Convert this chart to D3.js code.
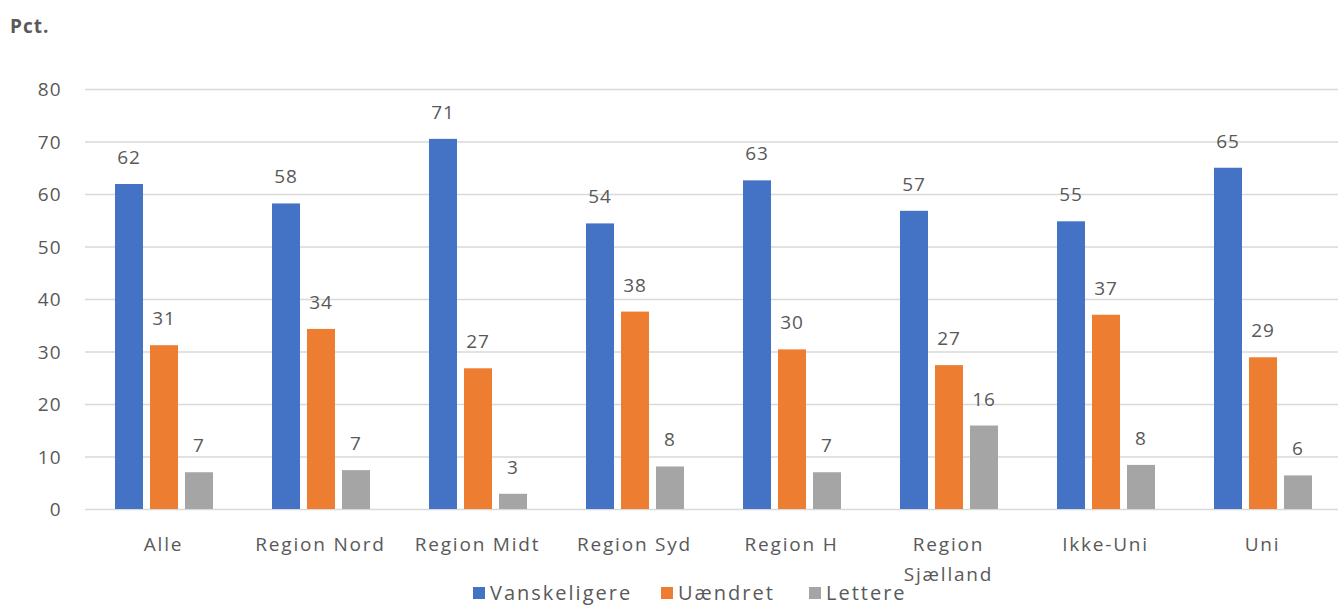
<!doctype html>
<html lang="da">
<head>
<meta charset="UTF-8">
<title>Pct.</title>
<script src="https://cdnjs.cloudflare.com/ajax/libs/d3/7.8.5/d3.min.js"></script>
<style>
    body { margin: 0; background: #fff; }
    text { font-family: "Open Sans", "Noto Sans", sans-serif; fill: #595959; }
</style>
</head>
<body>
<svg id="chart" width="1338" height="608"></svg>
<script>
    var categories = ["Alle", "Region Nord", "Region Midt", "Region Syd", "Region H", "Region Sjælland", "Ikke-Uni", "Uni"];
    var seriesNames = ["Vanskeligere", "Uændret", "Lettere"];
    var vanskeligere = [61.9, 58.2, 70.5, 54.4, 62.6, 56.8, 54.8, 65.0];
    var uaendret = [31.2, 34.3, 26.8, 37.6, 30.4, 27.4, 37.0, 28.9];
    var lettere = [7.0, 7.4, 2.9, 8.1, 7.0, 15.9, 8.4, 6.4];
    var yTicks = [0, 10, 20, 30, 40, 50, 60, 70, 80];
    var colors = ["#4472C4", "#ED7D31", "#A5A5A5"];

    var series = [vanskeligere, uaendret, lettere];
    var svg = d3.select("#chart");
    var plotLeft = 85, plotRight = 1341, plotTop = 89, plotBottom = 509;

    var y = d3.scaleLinear().domain([0, 80]).range([plotBottom, plotTop]);
    var x0 = d3.scaleBand().domain(categories).range([plotLeft, plotRight]).paddingInner(0).paddingOuter(0);
    var x1 = d3.scaleBand().domain(seriesNames).range([30, x0.bandwidth() - 29]).paddingInner(0.2);

    // gridlines
    svg.append("g").selectAll("line").data(yTicks).enter().append("line")
        .attr("x1", plotLeft).attr("x2", 1338)
        .attr("y1", function (d) { return y(d) + 0.5; })
        .attr("y2", function (d) { return y(d) + 0.5; })
        .attr("stroke", "#d9d9d9").attr("stroke-width", 1.3);

    // y axis labels
    var yAxis = d3.axisLeft(y).tickValues(yTicks).tickSize(0).tickPadding(0);
    var ya = svg.append("g").attr("transform", "translate(62,0)").call(yAxis);
    ya.select(".domain").remove();
    ya.selectAll("text").style("font-size", "19px").attr("fill", "#595959")
        .style("font-family", "'Open Sans', sans-serif").style("letter-spacing", "1.3px")
        .attr("dy", "0.35em");

    // bars
    var groups = svg.append("g").selectAll("g").data(categories).enter().append("g")
        .attr("transform", function (d) { return "translate(" + x0(d) + ",0)"; });

    groups.each(function (c, ci) {
        var g = d3.select(this);
        seriesNames.forEach(function (s, si) {
            var v = series[si][ci];
            g.append("rect")
                .attr("x", x1(s)).attr("width", x1.bandwidth())
                .attr("y", y(v)).attr("height", y(0) - y(v))
                .attr("fill", colors[si]);
            g.append("text")
                .attr("x", x1(s) + x1.bandwidth() / 2)
                .attr("y", y(v) - 20)
                .attr("text-anchor", "middle")
                .style("font-size", "19px")
                .style("letter-spacing", "1px")
                .text(Math.round(v));
        });
    });

    // x axis labels
    var xAxis = d3.axisBottom(x0).tickSize(0).tickPadding(0);
    var xa = svg.append("g").attr("transform", "translate(0," + plotBottom + ")").call(xAxis);
    xa.select(".domain").remove();
    xa.selectAll("text").remove();
    xa.selectAll(".tick").each(function (d) {
        var parts = d === "Region Sjælland" ? ["Region", "Sjælland"] : [d];
        var t = d3.select(this).append("text").attr("text-anchor", "middle")
            .attr("fill", "#595959").style("font-size", "19px")
            .style("letter-spacing", "1.8px")
            .style("font-family", "'Open Sans', sans-serif");
        parts.forEach(function (p, i) {
            t.append("tspan").attr("x", 0).attr("y", 42 + i * 30).text(p);
        });
    });

    // title
    svg.append("text").attr("x", 10).attr("y", 33).style("font-size", "19px")
        .style("font-weight", "bold").style("letter-spacing", "1px").text("Pct.");

    // legend
    var legendX = [473, 661, 809];
    var legend = svg.append("g").selectAll("g").data(seriesNames).enter().append("g")
        .attr("transform", function (d, i) { return "translate(" + legendX[i] + ",587)"; });
    legend.append("rect").attr("width", 12).attr("height", 12)
        .attr("fill", function (d, i) { return colors[i]; });
    legend.append("text").attr("x", 17).attr("y", 13).style("font-size", "20px")
        .style("letter-spacing", "2px")
        .text(function (d) { return d; });
</script>
</body>
</html>
